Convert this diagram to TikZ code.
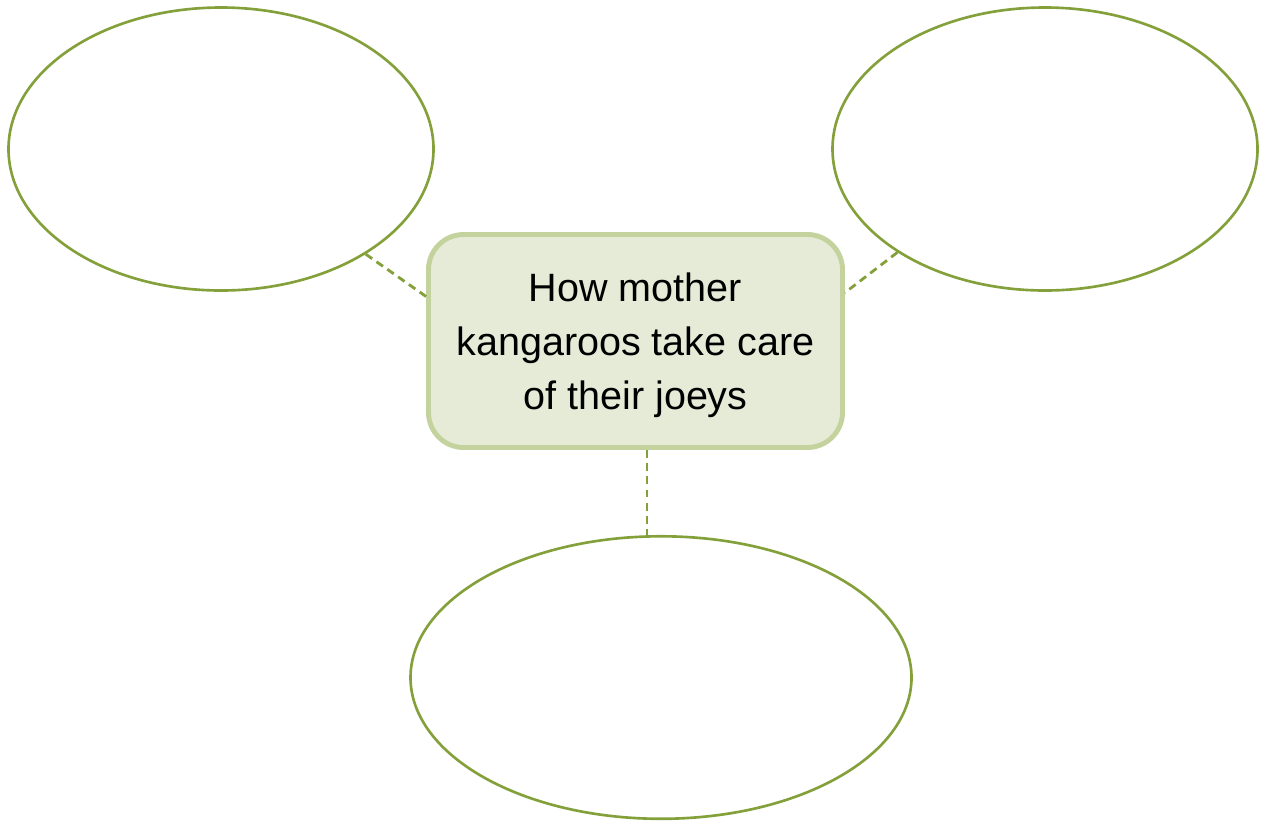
\documentclass[tikz,border=0pt]{standalone}
\usepackage{fontspec}
\setmainfont{Liberation Sans}
\usepackage{xcolor}
\usetikzlibrary{positioning,shapes.geometric}
\definecolor{olive}{HTML}{84A03A}
\definecolor{boxfill}{HTML}{E6EBD8}
\definecolor{boxline}{HTML}{C4D29E}
\tikzset{
  bubble/.style={ellipse, draw=olive, line width=1.5pt, inner sep=0pt, fill=white},
  topicbox/.style={draw=boxline, line width=2.8pt, fill=boxfill, rounded corners=20pt,
    minimum width=8.28cm, minimum height=4.26cm, align=center,
    font=\fontsize{22.5}{30}\selectfont},
  link/.style={draw=olive, line width=1.6pt, dash pattern=on 4.5pt off 3pt}
}
\begin{document}
\begin{tikzpicture}
  \useasboundingbox (0,0) rectangle (25.24,-16.44);
  \node[topicbox] (topic) at (12.71,-6.82)
    {\rule{0pt}{21pt}How mother\\[0.6pt]kangaroos take care\\[0.6pt]of their joeys};

  \node[bubble, minimum width=8.5cm, minimum height=5.66cm] (left) at (4.42,-2.98) {};
  \node[bubble, minimum width=8.5cm, minimum height=5.66cm] (right) at (20.9,-2.98) {};
  \node[bubble, minimum width=10.02cm, minimum height=5.65cm,
        below=1.7cm of topic, xshift=0.51cm] (bottom) {};

  % dashed links to the topic
  \draw[link] (left.-36.6) -- (topic.168.7);
  \draw[link] (right.215.7) -- (topic.13.4);
  \draw[link] (topic.-84.5) -- (topic.-84.5 |- bottom.north);
\end{tikzpicture}
\end{document}
